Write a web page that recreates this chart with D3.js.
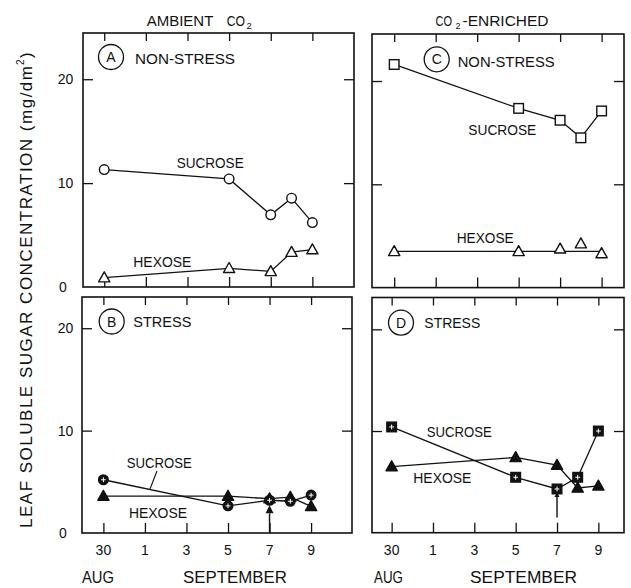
<!DOCTYPE html>
<html>
<head>
<meta charset="utf-8">
<script src="https://cdn.jsdelivr.net/npm/d3@7"></script>
<style>
body { margin: 0; background: #fff; }
svg text { font-family: "Liberation Sans", Arial, sans-serif; fill: #111; }
</style>
</head>
<body>
<div id="chart"></div>
<script>
// day index counted from 30 Aug (= 0): 1 Sep = 2 ... 9 Sep = 10
const days = [0, 6, 8, 9, 10];
const tickDays = [0, 2, 4, 6, 8, 10];
const tickLabels = ["30", "1", "3", "5", "7", "9"];
const yTicks = [10, 20];
const yLabels = [0, 10, 20];

const sucroseA = [11.3, 10.4, 6.95, 8.55, 6.2];
const hexoseA = [0.9, 1.8, 1.5, 3.35, 3.6];
const sucroseB = [5.2, 2.65, 3.2, 3.1, 3.7];
const hexoseB = [3.6, 3.6, 3.35, 3.5, 2.6];
const sucroseC = [21.6, 17.35, 16.2, 14.5, 17.1];
const hexoseC = [3.5, 3.5, 3.75, 4.25, 3.3];
const hexoseCLevel = 3.5;
const sucroseD = [10.4, 5.45, 4.3, 5.45, 10.0];
const hexoseD = [6.5, 7.4, 6.65, 4.4, 4.6];

const width = 631, height = 588;

const svg = d3.select("#chart").append("svg")
    .attr("width", width)
    .attr("height", height);

// panel boxes [left, top, right, bottom] and their domains
const panels = [
    {
        box: [83, 33, 354, 287], xd: [-1.02, 12.0], yd: [0, 24.45], letter: "A", circle: [111, 57],
        series: [
            {values: sucroseA, marker: "circleOpen"},
            {values: hexoseA, marker: "triOpen"}
        ],
        labels: [["NON-STRESS", 135, 64, 100], ["SUCROSE", 176.7, 168.3, 67], ["HEXOSE", 133.3, 266.7, 58]],
        yLabels: true
    },
    {
        box: [82, 297, 352, 533], xd: [-1.03, 11.97], yd: [0, 23.05], letter: "B", circle: [111.7, 321.5],
        series: [
            {values: hexoseB, marker: "triFilled"},
            {values: sucroseB, marker: "circleCross"}
        ],
        labels: [["STRESS", 133.3, 327, 58], ["SUCROSE", 126.7, 467.7, 65], ["HEXOSE", 129, 518.3, 58]],
        leader: [[157, 471], [150, 489]],
        arrow: {day: 8, from: 0, to: 2.7, head: 8},
        yLabels: true, xLabels: true
    },
    {
        box: [372, 34, 624, 287.6], xd: [-1.07, 11.08], yd: [0, 24.55], letter: "C", circle: [436.7, 59.3],
        series: [
            {values: sucroseC, marker: "squareOpen"},
            {values: hexoseC, marker: "triOpen", level: hexoseCLevel}
        ],
        labels: [["NON-STRESS", 457.7, 66.7, 97], ["SUCROSE", 468.3, 135, 68], ["HEXOSE", 456.7, 242.7, 57]]
    },
    {
        box: [372, 297.5, 624, 532.7], xd: [-0.95, 11.24], yd: [0, 23.13], letter: "D", circle: [401, 322.7],
        series: [
            {values: hexoseD, marker: "triFilled"},
            {values: sucroseD, marker: "squareCross"}
        ],
        labels: [["STRESS", 424.3, 328, 56], ["SUCROSE", 426.7, 436.7, 65], ["HEXOSE", 413.3, 483.3, 58]],
        arrow: {day: 8, from: 1.5, to: 4.0, head: 5},
        xLabels: true
    }
];

function drawMarker(g, type, cx, cy) {
    const m = g.append("g").attr("transform", `translate(${cx},${cy})`);
    if (type === "circleOpen" || type === "circleCross") {
        m.append("circle").attr("r", 4.8)
            .attr("fill", type === "circleOpen" ? "#fff" : "#111")
            .attr("stroke", "#111").attr("stroke-width", 1.4);
    }
    if (type === "squareOpen" || type === "squareCross") {
        m.append("rect").attr("x", -4.8).attr("y", -4.8).attr("width", 9.6).attr("height", 9.6)
            .attr("fill", type === "squareOpen" ? "#fff" : "#111")
            .attr("stroke", "#111").attr("stroke-width", 1.4);
    }
    if (type === "triOpen" || type === "triFilled") {
        m.append("path").attr("d", "M0,-5.8L5.6,4.2L-5.6,4.2Z")
            .attr("fill", type === "triOpen" ? "#fff" : "#111")
            .attr("stroke", "#111").attr("stroke-width", 1.4)
            .attr("stroke-linejoin", "round");
    }
    if (type === "circleCross" || type === "squareCross") {
        m.append("path").attr("d", "M-2.4,0H2.4M0,-2.4V2.4")
            .attr("stroke", "#fff").attr("stroke-width", 1);
    }
}

function fitText(g, str, x, y, len, size) {
    g.append("text")
        .attr("x", x).attr("y", y)
        .attr("font-size", size)
        .attr("textLength", len)
        .attr("lengthAdjust", "spacingAndGlyphs")
        .text(str);
}

panels.forEach(function (p) {
    const [x0, y0, x1, y1] = p.box;
    const x = d3.scaleLinear().domain(p.xd).range([x0, x1]);
    const y = d3.scaleLinear().domain(p.yd).range([y1, y0]);
    const g = svg.append("g");

    // inward ticks on all four sides
    const tickStyle = function (a) {
        a.select(".domain").remove();
        a.selectAll(".tick line").attr("stroke", "#111").attr("stroke-width", 1.3);
        a.selectAll(".tick text").remove();
    };
    g.append("g").attr("transform", `translate(0,${y1})`)
        .call(d3.axisBottom(x).tickValues(tickDays).tickSize(-10)).call(tickStyle);
    g.append("g").attr("transform", `translate(0,${y0})`)
        .call(d3.axisTop(x).tickValues(tickDays).tickSize(-8)).call(tickStyle);
    g.append("g").attr("transform", `translate(${x0},0)`)
        .call(d3.axisLeft(y).tickValues(yTicks).tickSize(-10)).call(tickStyle);
    g.append("g").attr("transform", `translate(${x1},0)`)
        .call(d3.axisRight(y).tickValues(yTicks).tickSize(-10)).call(tickStyle);

    g.append("rect")
        .attr("x", x0).attr("y", y0)
        .attr("width", x1 - x0).attr("height", y1 - y0)
        .attr("fill", "none").attr("stroke", "#111").attr("stroke-width", 1.6);

    if (p.yLabels) {
        g.selectAll(".ylab").data(yLabels).enter().append("text")
            .attr("class", "ylab")
            .attr("x", d => d === 0 ? 63 : 65.5)
            .attr("y", d => y(d))
            .attr("dy", "0.36em")
            .attr("text-anchor", "middle")
            .attr("font-size", 14)
            .text(d => d);
    }
    if (p.xLabels) {
        g.selectAll(".xlab").data(tickDays).enter().append("text")
            .attr("class", "xlab")
            .attr("x", d => x(d))
            .attr("y", 555)
            .attr("text-anchor", "middle")
            .attr("font-size", 14)
            .text((d, i) => tickLabels[i]);
    }

    // arrow from the axis
    if (p.arrow) {
        const ax = x(p.arrow.day);
        const h = p.arrow.head;
        g.append("line")
            .attr("x1", ax).attr("x2", ax)
            .attr("y1", y(p.arrow.from)).attr("y2", y(p.arrow.to) + h)
            .attr("stroke", "#111").attr("stroke-width", 1.4);
        g.append("path")
            .attr("d", `M${ax},${y(p.arrow.to)}L${ax + h / 2},${y(p.arrow.to) + h}L${ax - h / 2},${y(p.arrow.to) + h}Z`)
            .attr("fill", "#111");
    }

    const line = d3.line().x((d, i) => x(days[i])).y(d => y(d));
    p.series.forEach(function (s) {
        if (s.level !== undefined) {
            g.append("line")
                .attr("x1", x(days[0])).attr("x2", x(days[days.length - 1]))
                .attr("y1", y(s.level)).attr("y2", y(s.level))
                .attr("stroke", "#111").attr("stroke-width", 1.2);
        } else {
            g.append("path").datum(s.values)
                .attr("d", line)
                .attr("fill", "none")
                .attr("stroke", "#111").attr("stroke-width", 1.3);
        }
    });
    p.series.forEach(function (s) {
        s.values.forEach((v, i) => drawMarker(g, s.marker, x(days[i]), y(v)));
    });

    if (p.leader) {
        g.append("line")
            .attr("x1", p.leader[0][0]).attr("y1", p.leader[0][1])
            .attr("x2", p.leader[1][0]).attr("y2", p.leader[1][1])
            .attr("stroke", "#111").attr("stroke-width", 1.1);
    }

    // panel letter in a circle
    g.append("circle")
        .attr("cx", p.circle[0]).attr("cy", p.circle[1]).attr("r", 12.5)
        .attr("fill", "#fff").attr("stroke", "#111").attr("stroke-width", 1.3);
    g.append("text")
        .attr("x", p.circle[0]).attr("y", p.circle[1])
        .attr("dy", "0.36em")
        .attr("text-anchor", "middle")
        .attr("font-size", 14)
        .text(p.letter);

    p.labels.forEach(l => fitText(g, l[0], l[1], l[2], l[3], 14.5));
});

// column titles
fitText(svg, "AMBIENT", 146.7, 26, 66.6, 14);
fitText(svg, "CO", 226.7, 26, 18.3, 14);
svg.append("text").attr("x", 246.5).attr("y", 29).attr("font-size", 9.5).text("2");

fitText(svg, "CO", 435.5, 26, 16.5, 14);
svg.append("text").attr("x", 455.5).attr("y", 29).attr("font-size", 9).text("2");
fitText(svg, "-ENRICHED", 462.5, 26, 86, 14);

// month labels
fitText(svg, "AUG", 82, 583.3, 32, 16);
fitText(svg, "SEPTEMBER", 183, 583.3, 104, 16);
fitText(svg, "AUG", 374, 583.3, 29, 16);
fitText(svg, "SEPTEMBER", 470, 583.3, 107, 16);

// y axis title
const yt = svg.append("g").attr("transform", "translate(32,0) rotate(-90)");
yt.append("text")
    .attr("x", -528).attr("y", 0)
    .attr("font-size", 17)
    .attr("textLength", 462)
    .attr("lengthAdjust", "spacing")
    .text("LEAF SOLUBLE SUGAR CONCENTRATION (mg/dm");
yt.append("text").attr("x", -65).attr("y", -8).attr("font-size", 10).text("2");
yt.append("text").attr("x", -58).attr("y", 0).attr("font-size", 17).text(")");
</script>
</body>
</html>
